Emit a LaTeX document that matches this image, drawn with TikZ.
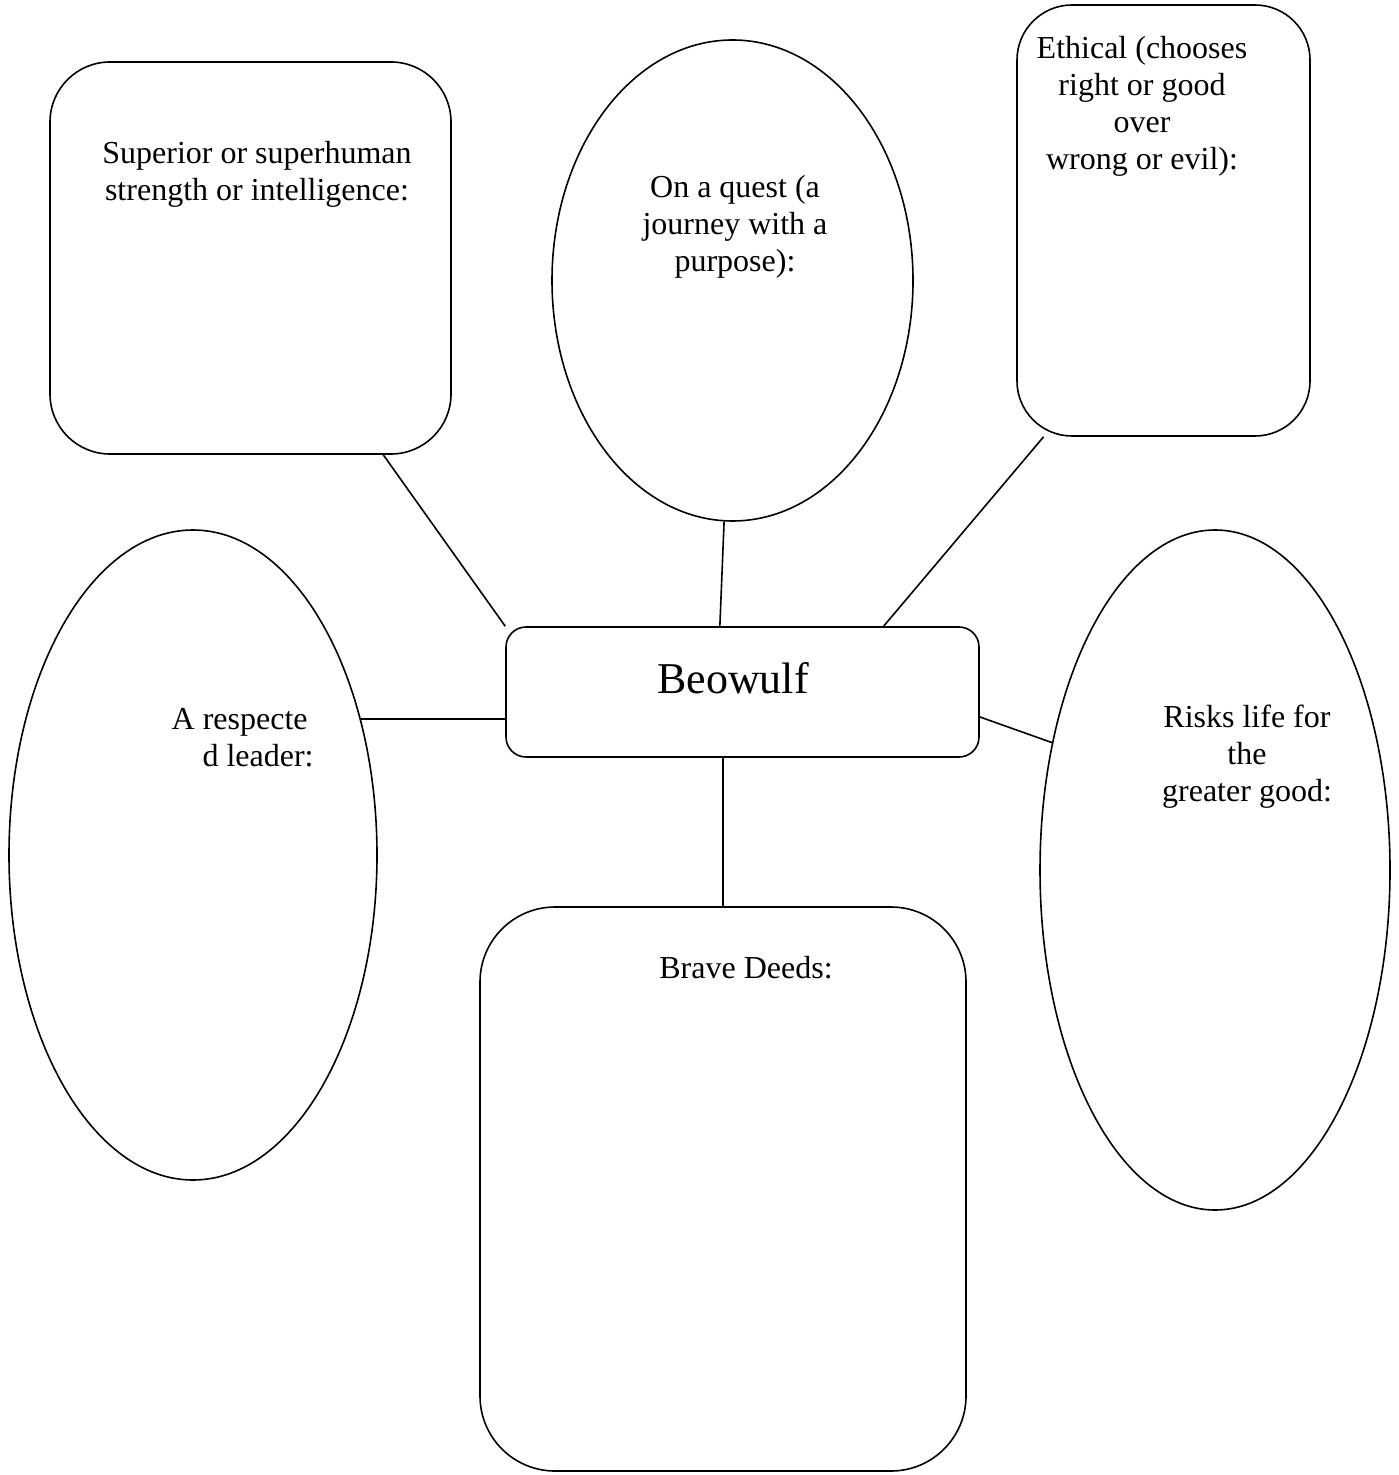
\documentclass[tikz,border=0pt]{standalone}
\usepackage{fontspec}
\setmainfont{Liberation Serif}
\usetikzlibrary{shapes.geometric}
\begin{document}
\begin{tikzpicture}[x=0.5pt,y=-0.5pt,
  shapeline/.style={draw=black, line width=0.8pt},
  roundbox/.style={shapeline, rectangle, inner sep=0pt},
  oval/.style={shapeline, ellipse, inner sep=0pt},
  lbl/.style={font=\fontsize{16}{18.5}\selectfont, align=center, inner sep=0pt},
  link/.style={draw=black, line width=0.8pt}]
\useasboundingbox (0,0) rectangle (1398,1475);
\fill[white] (0,0) rectangle (1398,1475);
% shapes
\node[roundbox, minimum width=200.5pt, minimum height=196pt, rounded corners=30pt] (sup) at (250.5,258) {};
\node[oval, minimum width=180.5pt, minimum height=240.5pt] (quest) at (732.5,280.5) {};
\node[roundbox, minimum width=146.5pt, minimum height=215.5pt, rounded corners=27.5pt] (eth) at (1163.5,220.5) {};
\node[roundbox, minimum width=236.5pt, minimum height=65pt, rounded corners=10pt] (beo) at (742.5,692) {};
\node[oval, minimum width=184pt, minimum height=325pt] (lead) at (193,855) {};
\node[oval, minimum width=175pt, minimum height=340pt] (risk) at (1215,870) {};
\node[roundbox, minimum width=243pt, minimum height=282pt, rounded corners=37.5pt] (brave) at (723,1189) {};
% texts
\node[lbl] (supt) at (257,174) {Superior or superhuman\\strength or intelligence:};
\node[lbl] (questt) at (735,227) {On a quest (a\\journey with a\\purpose):};
\node[lbl] (etht) at (1142,106) {Ethical (chooses\\right or good\\over\\wrong or evil):};
\node[font=\fontsize{22}{26}\selectfont, inner sep=0pt] (beot) at (733,678) {Beowulf};
\node[lbl, align=right, anchor=east] (leadt) at (314,738) {A respecte\hspace*{3pt}\\d leader:};
\node[lbl] (riskt) at (1247,757) {Risks life for\\the\\greater good:};
\node[lbl] (bravet) at (746,968) {Brave Deeds:};
% connectors
\draw[link] (sup.-56.5) -- (beo.north west);
\draw[link] (quest.-92) -- (beo.109);
\draw[link] (eth.-119.8) -- (beo.25);
\draw[link] (lead.39.6) -- (lead.39.6 -| beo.west);
\draw[link] (beo.-6) -- (risk.142.3);
\draw[link] (brave.north |- beo.south) -- (brave.north);
\end{tikzpicture}
\end{document}
